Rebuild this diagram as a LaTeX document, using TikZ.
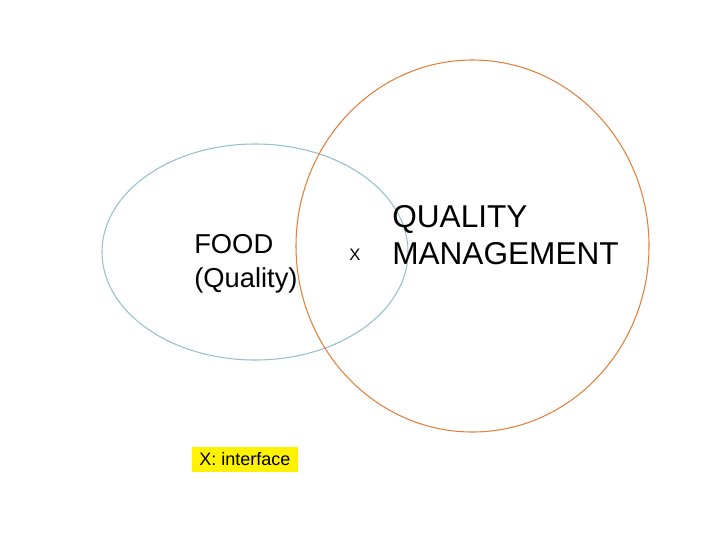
\documentclass[tikz,border=0pt]{standalone}
\usepackage{fontspec}
\setmainfont{Liberation Sans}
\definecolor{foodline}{RGB}{150,192,205}
\definecolor{qmline}{RGB}{228,128,60}
\tikzset{
  venn/.style={line width=0.8pt},
  label text/.style={align=left, inner sep=0pt, anchor=north west},
}
\begin{document}
\begin{tikzpicture}[x=0.75pt,y=-0.75pt]
\useasboundingbox (0,0) rectangle (720,540);

\draw[venn,color=foodline] (255,252) ellipse [x radius=153, y radius=108];
\draw[venn,color=qmline] (472.5,246) ellipse [x radius=176.5, y radius=186];

\node[label text, font=\fontsize{20.5}{25.5}\selectfont] (food) at (194,234) {FOOD\\(Quality)};
\node[label text, font=\fontsize{23.7}{28}\selectfont] (qm) at (392,205) {QUALITY\\MANAGEMENT};
\node[inner sep=0pt, font=\fontsize{12.5}{14}\selectfont] (x) at (355,255) {X};

\node[fill=yellow, minimum width=79.5pt, minimum height=18.75pt, inner sep=0pt, font=\fontsize{13.5}{16}\selectfont] (key) at (245,459.5) {X: interface};

\end{tikzpicture}
\end{document}
